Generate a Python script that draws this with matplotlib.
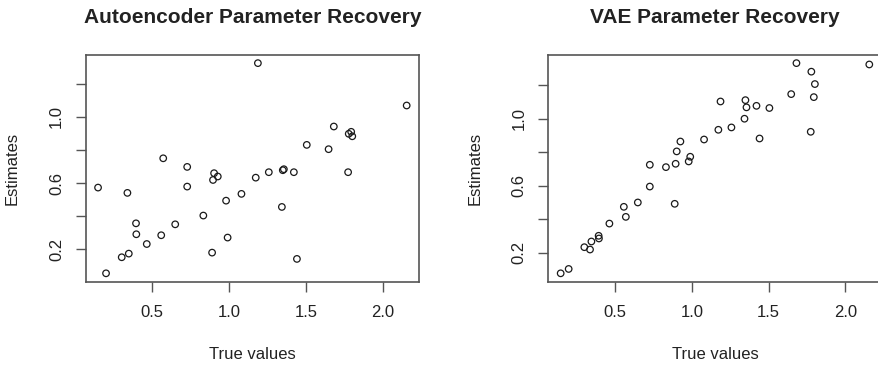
import numpy as np
import matplotlib
matplotlib.use("Agg")
import matplotlib.pyplot as plt

# True parameter values (shared by both models)
true_values = [0.147, 0.199, 0.301, 0.338, 0.347, 0.394, 0.396, 0.464, 0.558, 0.571,
               0.649, 0.727, 0.727, 0.832, 0.889, 0.895, 0.902, 0.926, 0.980, 0.990,
               1.080, 1.173, 1.187, 1.258, 1.343, 1.349, 1.356, 1.421, 1.441, 1.505,
               1.647, 1.681, 1.774, 1.778, 1.794, 1.801, 2.155]

# Estimates from the autoencoder
ae_estimates = [0.573, 0.055, 0.152, 0.541, 0.174, 0.357, 0.291, 0.232, 0.285, 0.750,
                0.351, 0.698, 0.579, 0.404, 0.180, 0.619, 0.660, 0.640, 0.494, 0.271,
                0.535, 0.633, 1.325, 0.666, 0.456, 0.678, 0.684, 0.666, 0.142, 0.831,
                0.805, 0.942, 0.666, 0.898, 0.910, 0.883, 1.069]

# Estimates from the VAE
vae_estimates = [0.076, 0.102, 0.232, 0.218, 0.266, 0.300, 0.284, 0.373, 0.473, 0.413,
                 0.499, 0.724, 0.594, 0.710, 0.491, 0.730, 0.804, 0.863, 0.744, 0.772,
                 0.875, 0.933, 1.102, 0.947, 0.999, 1.110, 1.067, 1.076, 0.881, 1.063,
                 1.146, 1.331, 0.921, 1.280, 1.128, 1.206, 1.323]

titles = ["Autoencoder Parameter Recovery", "VAE Parameter Recovery"]
x_ticks = [0.5, 1.0, 1.5, 2.0]
x_ticklabels = ["0.5", "1.0", "1.5", "2.0"]
y_ticks = [0.2, 0.4, 0.6, 0.8, 1.0, 1.2]
y_ticklabels = ["0.2", "", "0.6", "", "1.0", ""]

plt.rcParams["font.family"] = ["Liberation Sans", "DejaVu Sans"]
ink = "#222222"
frame = "#555555"

# R style axis range: data range padded by 4% on each side
def r_range(v):
    lo, hi = min(v), max(v)
    pad = 0.04 * (hi - lo)
    return lo - pad, hi + pad

fig = plt.figure(figsize=(8.79, 3.70), dpi=100)
lefts = [0.0975, 0.6238]

for i, est in enumerate([ae_estimates, vae_estimates]):
    a = fig.add_axes([lefts[i], 0.2386, 0.3792, 0.6135])
    a.scatter(true_values, est, s=22, facecolors="none", edgecolors="#1a1a1a", linewidths=0.9)
    a.set_xlim(*r_range(true_values))
    a.set_ylim(*r_range(est))

    a.set_xticks(x_ticks)
    a.set_xticklabels(x_ticklabels)
    a.set_yticks(y_ticks)
    a.set_yticklabels(y_ticklabels, rotation=90, va="center")
    a.tick_params(direction="out", length=7, width=1.0, color=frame,
                  labelsize=12, labelcolor=ink)
    a.tick_params(axis="x", pad=9.5)
    a.tick_params(axis="y", pad=8.5)
    for s in a.spines.values():
        s.set_color(frame)
        s.set_linewidth(1.2)

    a.set_title(titles[i], fontsize=15, fontweight="bold", color=ink, pad=23)
    a.set_xlabel("True values", fontsize=12, color=ink, labelpad=20)
    a.set_ylabel("Estimates", fontsize=12, color=ink, labelpad=21)

fig.savefig("out.png", dpi=100)
